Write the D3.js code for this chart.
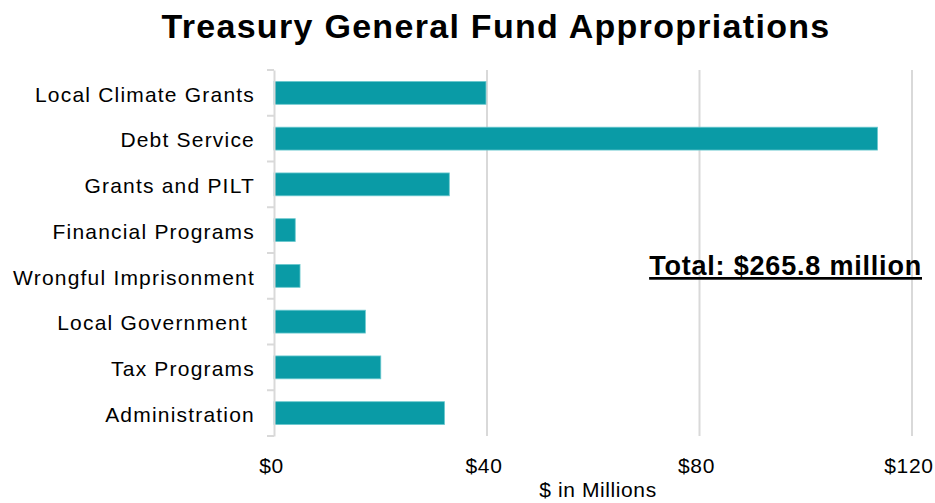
<!DOCTYPE html>
<html>
<head>
<meta charset="utf-8">
<script src="https://cdn.jsdelivr.net/npm/d3@7"></script>
<style>
  body { margin: 0; background: #fff; }
  svg { font-family: Arial, "Liberation Sans", sans-serif; }
  text { white-space: pre; }
  .grid line { stroke: #d9d9d9; stroke-width: 2; }
  .grid .domain { display: none; }
</style>
</head>
<body>
<svg id="chart" width="935" height="503"></svg>
<script>
// ---- Data ----
const categories = ['Local Climate Grants', 'Debt Service', 'Grants and PILT', 'Financial Programs',
  'Wrongful Imprisonment', 'Local Government ', 'Tax Programs', 'Administration'];
const values = [39.9, 113.6, 33.0, 4.0, 4.9, 17.2, 20.1, 32.1];
const xTicks = [0, 40, 80, 120];
const title = 'Treasury General Fund Appropriations';
const totalLabel = 'Total: $265.8 million';
const xTitle = '$ in Millions';

const svg = d3.select('#chart');
const margin = {top: 70, right: 24, bottom: 67, left: 274};
const width = +svg.attr('width');
const height = +svg.attr('height');

const x = d3.scaleLinear().domain([0, 120]).range([margin.left, 911.5]);
const y = d3.scaleBand().domain(categories).range([margin.top, height - margin.bottom]).paddingInner(0.5).paddingOuter(0.25);

// gridlines
svg.append('g').attr('class', 'grid')
  .attr('transform', `translate(0,${height - margin.bottom})`)
  .call(d3.axisBottom(x).tickValues(xTicks.slice(1)).tickSize(-(height - margin.top - margin.bottom)).tickFormat(''));

// bars
svg.append('g')
  .selectAll('rect')
  .data(values)
  .join('rect')
  .attr('x', x(0))
  .attr('y', (d, i) => y(categories[i]))
  .attr('width', d => x(d) - x(0))
  .attr('height', y.bandwidth())
  .attr('fill', '#0a9ba6')
  .attr('stroke', '#6cc9cf')
  .attr('stroke-width', 0.8);

// y axis
const yAxis = svg.append('g')
  .attr('transform', `translate(${margin.left},0)`)
  .call(d3.axisLeft(y).tickSize(0).tickPadding(19));
yAxis.select('.domain').attr('stroke', '#d9d9d9').attr('stroke-width', 2);
yAxis.selectAll('text')
  .attr('font-size', 21)
  .attr('letter-spacing', 1.2)
  .attr('dy', '0.42em')
  .attr('fill', '#000');

// y tick marks between categories
const bounds = d3.range(categories.length + 1).map(i => margin.top + i * y.step());
svg.append('g').selectAll('line')
  .data(bounds)
  .join('line')
  .attr('x1', margin.left - 7).attr('x2', margin.left)
  .attr('y1', d => d).attr('y2', d => d)
  .attr('stroke', '#d9d9d9').attr('stroke-width', 2);

// x axis labels
const xAxis = svg.append('g')
  .attr('transform', `translate(0,${height - margin.bottom})`)
  .call(d3.axisBottom(x).tickValues(xTicks).tickSize(0).tickPadding(22).tickFormat(d => '$' + d));
xAxis.select('.domain').remove();
xAxis.selectAll('text')
  .attr('font-size', 21)
  .attr('letter-spacing', 0.7)
  .attr('dx', -3)
  .attr('fill', '#000');

svg.append('text')
  .attr('x', 598).attr('y', 497)
  .attr('text-anchor', 'middle')
  .attr('font-size', 21)
  .attr('letter-spacing', 0.6)
  .text(xTitle);

// title
svg.append('text')
  .attr('x', 496).attr('y', 38)
  .attr('text-anchor', 'middle')
  .attr('font-size', 34)
  .attr('letter-spacing', 1.3)
  .attr('font-weight', 'bold')
  .text(title);

// total annotation
svg.append('text')
  .attr('x', 922).attr('y', 275)
  .attr('text-anchor', 'end')
  .attr('font-size', 27)
  .attr('letter-spacing', 0.8)
  .attr('font-weight', 'bold')
  .attr('text-decoration', 'underline')
  .text(totalLabel);
</script>
</body>
</html>
